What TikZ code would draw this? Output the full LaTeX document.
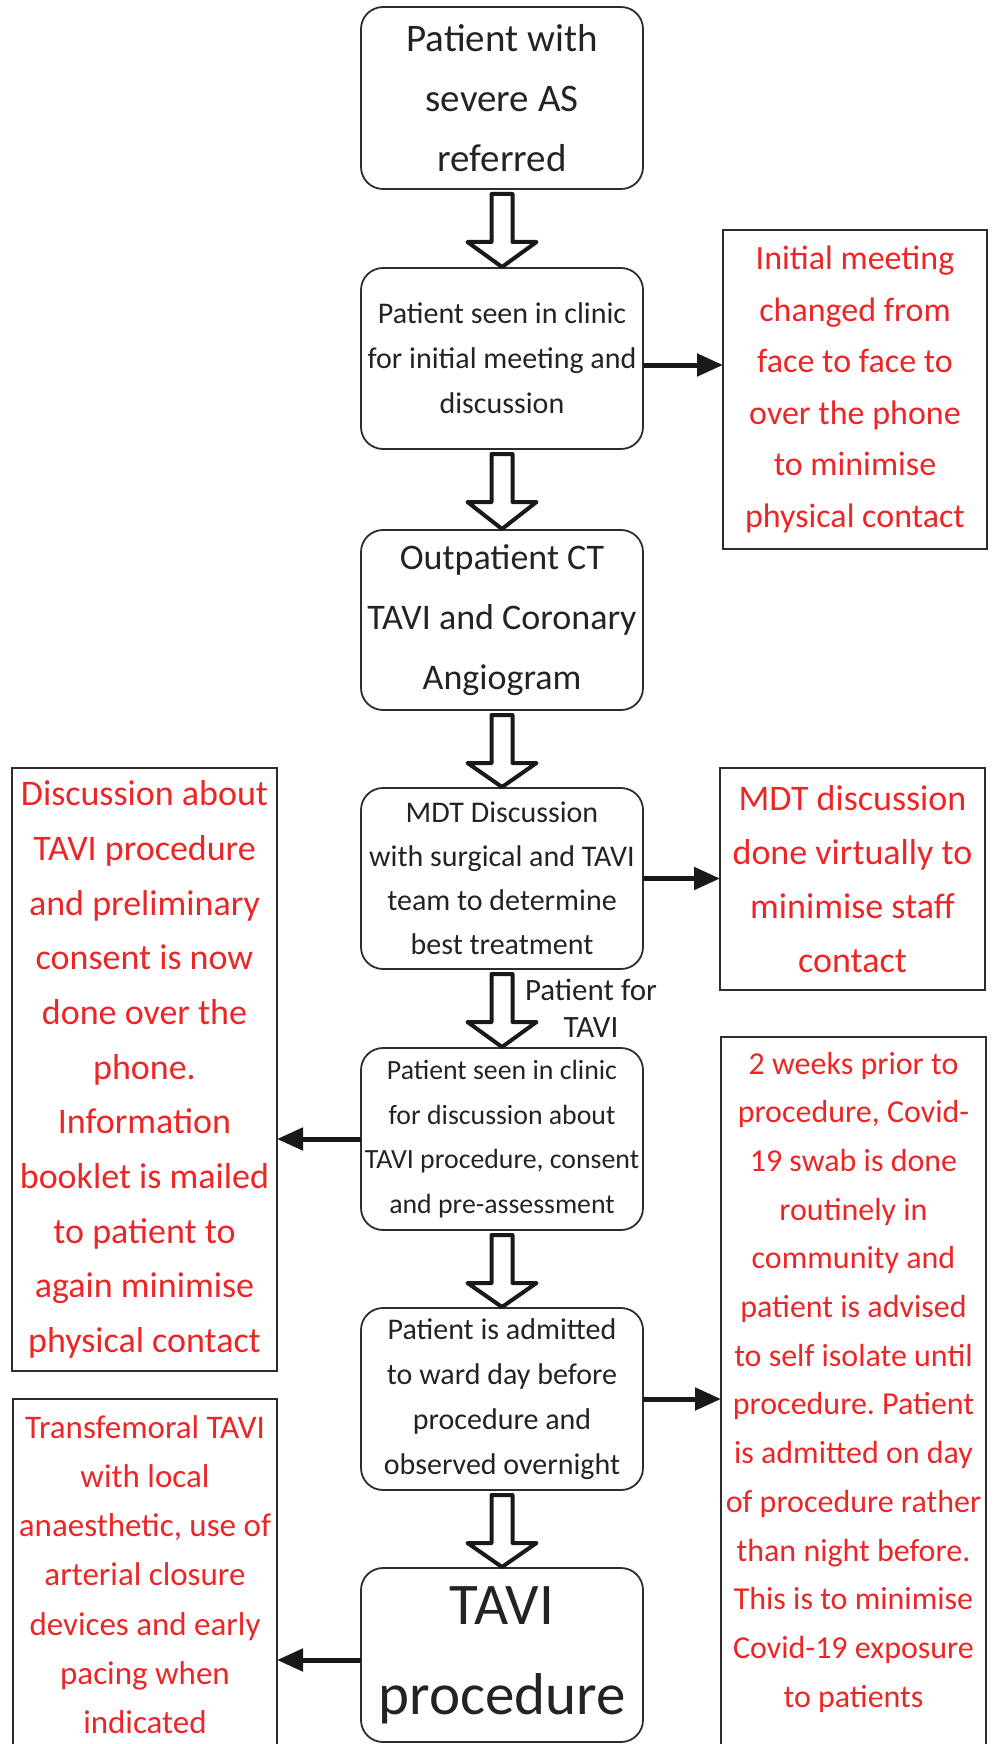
\documentclass[tikz,border=0pt]{standalone}
\usepackage{fontspec}
\setmainfont{Carlito}
\usetikzlibrary{arrows.meta,calc}
\definecolor{txtred}{RGB}{236,38,38}
\definecolor{txtdark}{RGB}{35,35,35}
\definecolor{edge}{RGB}{45,45,45}
\newcommand{\fs}[2]{\fontsize{#1}{#2}\selectfont}
\newcommand{\blockarr}[2]{\draw[blockarrow] ($(#1.south)+(-10.5,5)$) -- ++(0,48) -- ++(-24,0) -- ($(#2.north)+(0,-1)$) -- ($(#1.south)+(34.5,53)$) -- ++(-24,0) -- ++(0,-48) -- cycle;}
\tikzset{
  stepbox/.style={draw=edge, line width=0.9pt, rounded corners=11pt, text=txtdark, align=center, inner sep=0pt, outer sep=0pt, minimum width=141pt},
  notebox/.style={draw=edge, line width=1pt, text=txtred, align=center, inner sep=0pt, outer sep=0pt},
  notetext/.style={text=txtred, align=center, inner sep=0pt},
  sidearrow/.style={draw=black!90, line width=2.5pt, -{Triangle[length=13pt,width=11pt]}},
  blockarrow/.style={draw=black!90, line width=2pt, line join=round, fill=white},
}
\frenchspacing
\begin{document}
\begin{tikzpicture}[x=0.5pt,y=-0.5pt]
\useasboundingbox (0,0) rectangle (997,1744);
\clip (0,0) rectangle (997,1744);

% main column
\node[stepbox, minimum height=91pt, font=\fs{19.5}{30}] (b1) at (502,98) {Patient with\\severe AS\\referred};
\node[stepbox, minimum height=90.5pt, font=\fs{15}{22.5}] (b2) at (502,358.5) {Patient seen in clinic\\for initial meeting and\\discussion};
\node[stepbox, minimum height=90pt, font=\fs{18}{30}] (b3) at (502,620) {Outpatient CT\\TAVI and Coronary\\Angiogram};
\node[stepbox, minimum height=90.5pt, font=\fs{15}{22}] (b4) at (502,878.5) {MDT Discussion\\with surgical and TAVI\\team to determine\\best treatment};
\node[stepbox, minimum height=91pt, font=\fs{13.9}{22.25}] (b5) at (502,1139) {Patient seen in clinic\\for discussion about\\TAVI procedure, consent\\and pre-assessment};
\node[stepbox, minimum height=91pt, font=\fs{15}{22.5}] (b6) at (502,1399) {Patient is admitted\\to ward day before\\procedure and\\observed overnight};
\node[stepbox, minimum height=87pt, font=\fs{29.5}{45}] (b7) at (502,1655) {TAVI\\procedure};

\node[text=txtdark, align=center, inner sep=0pt, font=\fs{15.5}{18.5}] (lbl) at (591,1008) {Patient for\\TAVI};

% notes
\node[notebox, minimum width=132pt, minimum height=159.5pt, font=\fs{17}{25.75}] (r1) at (855,389.5) {Initial meeting\\changed from\\face to face to\\over the phone\\to minimise\\physical contact};
\node[notebox, minimum width=132.5pt, minimum height=111pt, font=\fs{18}{27}] (r2) at (852.5,879) {MDT discussion\\done virtually to\\minimise staff\\contact};
\node[notebox, minimum width=132.5pt, minimum height=301.5pt, font=\fs{18}{27.35}] (l1) at (144.5,1069.5) {Discussion about\\TAVI procedure\\and preliminary\\consent is now\\done over the\\phone.\\Information\\booklet is mailed\\to patient to\\again minimise\\physical contact};
\node[notebox, minimum width=132.5pt, minimum height=356.5pt] (r3) at (853.5,1393.5) {};
\node[notetext, font=\fs{16}{24.35}] (r3t) at (853.5,1382) {2 weeks prior to\\procedure, Covid-\\19 swab is done\\routinely in\\community and\\patient is advised\\to self isolate until\\procedure. Patient\\is admitted on day\\of procedure rather\\than night before.\\This is to minimise\\Covid-19 exposure\\to patients};
\node[notebox, minimum width=132pt, minimum height=175.5pt, font=\fs{16.5}{24.6}] (l2) at (145,1574.5) {Transfemoral TAVI\\with local\\anaesthetic, use of\\arterial closure\\devices and early\\pacing when\\indicated};

% block arrows
\blockarr{b1}{b2}
\blockarr{b2}{b3}
\blockarr{b3}{b4}
\blockarr{b4}{b5}
\blockarr{b5}{b6}
\blockarr{b6}{b7}

% side arrows
\draw[sidearrow] ($(b2.east)+(0,6.5)$) -- ($(b2.east -| r1.west)+(0,6.5)$);
\draw[sidearrow] (b4.east) -- (b4.east -| r2.west);
\draw[sidearrow] (b5.west) -- (b5.west -| l1.east);
\draw[sidearrow] (b6.east) -- (b6.east -| r3.west);
\draw[sidearrow] ($(b7.west)+(0,5)$) -- ($(b7.west -| l2.east)+(0,5)$);
\end{tikzpicture}
\end{document}
